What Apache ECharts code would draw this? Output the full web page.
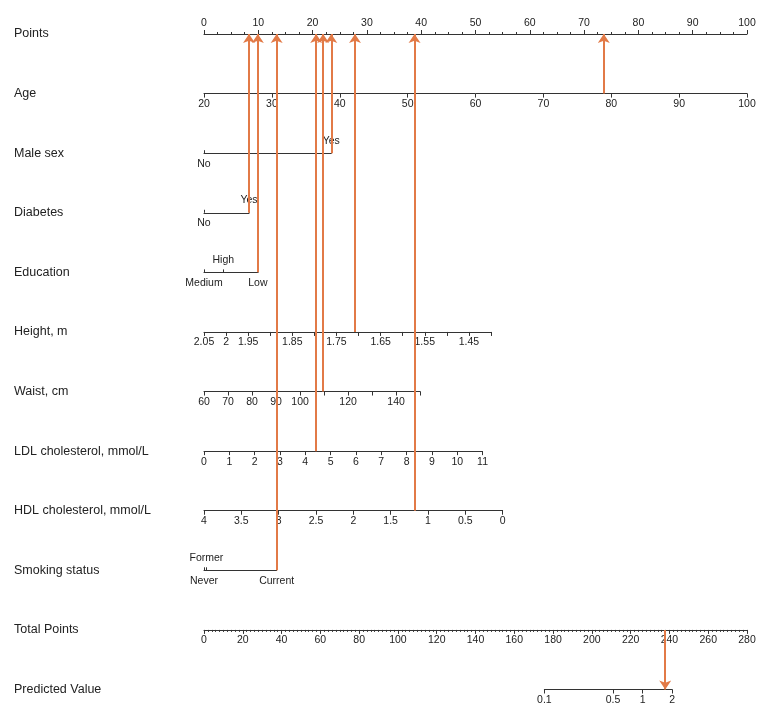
<!DOCTYPE html>
<html><head><meta charset="utf-8">
<script src="https://cdn.jsdelivr.net/npm/echarts@6/dist/echarts.min.js"></script>
<style>html,body{margin:0;padding:0;background:#fff}#c{width:768px;height:722px}</style>
</head><body><div id="c"></div>
<script>
// ---------------- data ----------------
const rowNames = ['Points','Age','Male sex','Diabetes','Education','Height, m','Waist, cm',
  'LDL cholesterol, mmol/L','HDL cholesterol, mmol/L','Smoking status','Total Points','Predicted Value'];

// continuous predictors: [value at 0 points, value at end], points at end of scale
const ageRange = [20, 100];      const ageEndPoints = 100;
const heightRange = [2.05, 1.40]; const heightEndPoints = 52.85;
const heightLabels = [2.05, 2, 1.95, 1.85, 1.75, 1.65, 1.55, 1.45];
const waistRange = [60, 150];    const waistEndPoints = 39.8;
const waistLabels = [60, 70, 80, 90, 100, 120, 140];
const ldlRange = [0, 11];        const ldlEndPoints = 51.3;
const hdlRange = [4, 0];         const hdlEndPoints = 55.0;

// categorical predictors
const sexLevels = ['No', 'Yes'];           const sexPoints = [0, 23.44];      const sexAbove = [false, true];
const diabetesLevels = ['No', 'Yes'];      const diabetesPoints = [0, 8.29];  const diabetesAbove = [false, true];
const educationLevels = ['Medium', 'High', 'Low']; const educationPoints = [0, 3.55, 9.92]; const educationAbove = [false, true, false];
const smokingLevels = ['Never', 'Former', 'Current']; const smokingPoints = [0, 0.45, 13.38]; const smokingAbove = [false, true, false];

// total points / predicted value
const totalRange = [0, 280];
const predTicks = [0.1, 0.5, 1, 2];
const predTotalAtEnds = [175.5, 241.4]; // total points where predicted = 0.1 and 2

// example patient
const patientAge = 78.9;
const patientSex = 'Yes';
const patientDiabetes = 'Yes';
const patientEducation = 'Low';
const patientHeight = 1.708;
const patientWaist = 109.6;
const patientLdl = 4.43;
const patientHdl = 1.18;
const patientSmoking = 'Current';

// ---------------- layout ----------------
const X0 = 204, X1 = 747, ROW0 = 34, ROWSTEP = 59.59;
const PPP = (X1 - X0) / 100;            // px per point
const PPT = (X1 - X0) / totalRange[1];  // px per total point
const rowY = i => ROW0 + i * ROWSTEP;
const FONT = 'Liberation Sans, Arial, Helvetica, sans-serif';
const TXT = '#222', AX = '#333', ORANGE = '#E27A47';

const grids = [], xAxes = [], yAxes = [];
const lab = (extra) => Object.assign({color: TXT, fontSize: 10.5, fontFamily: FONT, margin: 5}, extra || {});

function addGrid(left, top, width) {
  grids.push({left: left, top: top, width: width, height: 1});
  const g = grids.length - 1;
  yAxes.push({gridIndex: g, type: 'value', show: false});
  return g;
}

function contRow(i, range, endPts, o) {
  const lo = Math.min(range[0], range[1]), hi = Math.max(range[0], range[1]);
  const top = o.top;
  const g = addGrid(X0, top ? rowY(i) : rowY(i) - 1, endPts * PPP);
  const axis = {
    gridIndex: g, type: 'value', position: top ? 'top' : 'bottom',
    min: lo, max: hi, interval: o.interval, inverse: range[0] > range[1],
    axisLine: {show: true, onZero: false, lineStyle: {color: AX, width: 1}},
    axisTick: {show: true, length: 4, lineStyle: {color: AX}},
    axisLabel: lab(o.labels ? {customValues: o.labels, formatter: v => String(+v.toFixed(2))} : {formatter: v => String(+v.toFixed(2))}),
    splitLine: {show: false}
  };
  if (o.minor) axis.minorTick = {show: true, splitNumber: o.minor, length: 2, lineStyle: {color: AX}};
  xAxes.push(axis);
}

function catRow(i, levels, pts, above) {
  const maxP = Math.max.apply(null, pts);
  const g = addGrid(X0, rowY(i) - 1, maxP * PPP);
  const fmt = v => { const k = pts.indexOf(v); return k >= 0 ? levels[k] : ''; };
  xAxes.push({
    gridIndex: g, type: 'value', position: 'bottom', min: 0, max: maxP,
    axisLine: {show: true, onZero: false, lineStyle: {color: AX, width: 1}},
    axisTick: {show: true, inside: true, length: 3, customValues: pts, lineStyle: {color: AX}},
    axisLabel: lab({customValues: pts.filter((p, k) => !above[k]), formatter: fmt}),
    splitLine: {show: false}
  });
  xAxes.push({
    gridIndex: g, type: 'value', position: 'top', min: 0, max: maxP,
    axisLine: {show: false}, axisTick: {show: false},
    axisLabel: lab({customValues: pts.filter((p, k) => above[k]), formatter: fmt, margin: 6}),
    splitLine: {show: false}
  });
}

contRow(0, [0, 100], 100, {top: true, interval: 10, minor: 4});
contRow(1, ageRange, ageEndPoints, {interval: 10});
catRow(2, sexLevels, sexPoints, sexAbove);
catRow(3, diabetesLevels, diabetesPoints, diabetesAbove);
catRow(4, educationLevels, educationPoints, educationAbove);
contRow(5, heightRange, heightEndPoints, {interval: 0.05, labels: heightLabels});
contRow(6, waistRange, waistEndPoints, {interval: 10, labels: waistLabels});
contRow(7, ldlRange, ldlEndPoints, {interval: 1});
contRow(8, hdlRange, hdlEndPoints, {interval: 0.5});
catRow(9, smokingLevels, smokingPoints, smokingAbove);

// total points
(function () {
  const g = addGrid(X0, rowY(10) - 1, X1 - X0);
  xAxes.push({
    gridIndex: g, type: 'value', position: 'bottom', min: totalRange[0], max: totalRange[1], interval: 20,
    axisLine: {show: true, onZero: false, lineStyle: {color: AX}},
    axisTick: {show: true, length: 4, lineStyle: {color: AX}},
    minorTick: {show: true, splitNumber: 10, length: 2, lineStyle: {color: AX}},
    axisLabel: lab(), splitLine: {show: false}
  });
})();

// predicted value (log10 scale)
(function () {
  const left = X0 + predTotalAtEnds[0] * PPT;
  const width = (predTotalAtEnds[1] - predTotalAtEnds[0]) * PPT;
  const g = addGrid(left, rowY(11) - 1, width);
  const logs = predTicks.map(v => Math.log10(v));
  xAxes.push({
    gridIndex: g, type: 'value', position: 'bottom',
    min: Math.log10(predTicks[0]), max: Math.log10(predTicks[predTicks.length - 1]),
    axisLine: {show: true, onZero: false, lineStyle: {color: AX}},
    axisTick: {show: true, length: 4, customValues: logs, lineStyle: {color: AX}},
    axisLabel: lab({customValues: logs, formatter: v => String(+Math.pow(10, v).toFixed(2))}),
    splitLine: {show: false}
  });
})();

// overlay grid: points space, row titles, arrows
const ov = grids.length;
grids.push({left: X0, top: ROW0, width: X1 - X0, height: ROWSTEP * 11});
const ovX = xAxes.length;
xAxes.push({gridIndex: ov, type: 'value', min: 0, max: 100, show: false});
xAxes.push({gridIndex: ov, type: 'value', min: totalRange[0], max: totalRange[1], show: false});
const ovY = yAxes.length;
yAxes.push({
  gridIndex: ov, type: 'category', data: rowNames, inverse: true, boundaryGap: false,
  axisLine: {show: false}, axisTick: {show: false}, splitLine: {show: false},
  axisLabel: {show: true, align: 'left', margin: X0 - 14, color: TXT, fontSize: 12.5, fontFamily: FONT, padding: [4, 0, 0, 0]}
});

// points for the example patient
const lin = (v, range, endPts) => (v - range[0]) / (range[1] - range[0]) * endPts;
const cat = (v, levels, pts) => pts[levels.indexOf(v)];
const contribs = [
  [lin(patientAge, ageRange, ageEndPoints), 'Age'],
  [cat(patientSex, sexLevels, sexPoints), 'Male sex'],
  [cat(patientDiabetes, diabetesLevels, diabetesPoints), 'Diabetes'],
  [cat(patientEducation, educationLevels, educationPoints), 'Education'],
  [lin(patientHeight, heightRange, heightEndPoints), 'Height, m'],
  [lin(patientWaist, waistRange, waistEndPoints), 'Waist, cm'],
  [lin(patientLdl, ldlRange, ldlEndPoints), 'LDL cholesterol, mmol/L'],
  [lin(patientHdl, hdlRange, hdlEndPoints), 'HDL cholesterol, mmol/L'],
  [cat(patientSmoking, smokingLevels, smokingPoints), 'Smoking status']
];
const total = contribs.reduce((s, c) => s + c[0], 0);

const arrowStyle = {
  type: 'lines', coordinateSystem: 'cartesian2d', yAxisIndex: ovY,
  symbol: ['none', 'arrow'], symbolSize: [7, 9], z: 5,
  lineStyle: {color: ORANGE, width: 2, opacity: 1, curveness: 0}, silent: true
};

const option = {
  animation: false,
  backgroundColor: '#fff',
  grid: grids, xAxis: xAxes, yAxis: yAxes,
  series: [
    Object.assign({}, arrowStyle, {
      xAxisIndex: ovX,
      data: contribs.map(c => ({coords: [[c[0], c[1]], [c[0], 'Points']]}))
    }),
    Object.assign({}, arrowStyle, {
      xAxisIndex: ovX + 1,
      data: [{coords: [[total, 'Total Points'], [total, 'Predicted Value']]}]
    })
  ]
};
const chart = echarts.init(document.getElementById('c'), null, {renderer: 'canvas'});
chart.setOption(option);
</script></body></html>
